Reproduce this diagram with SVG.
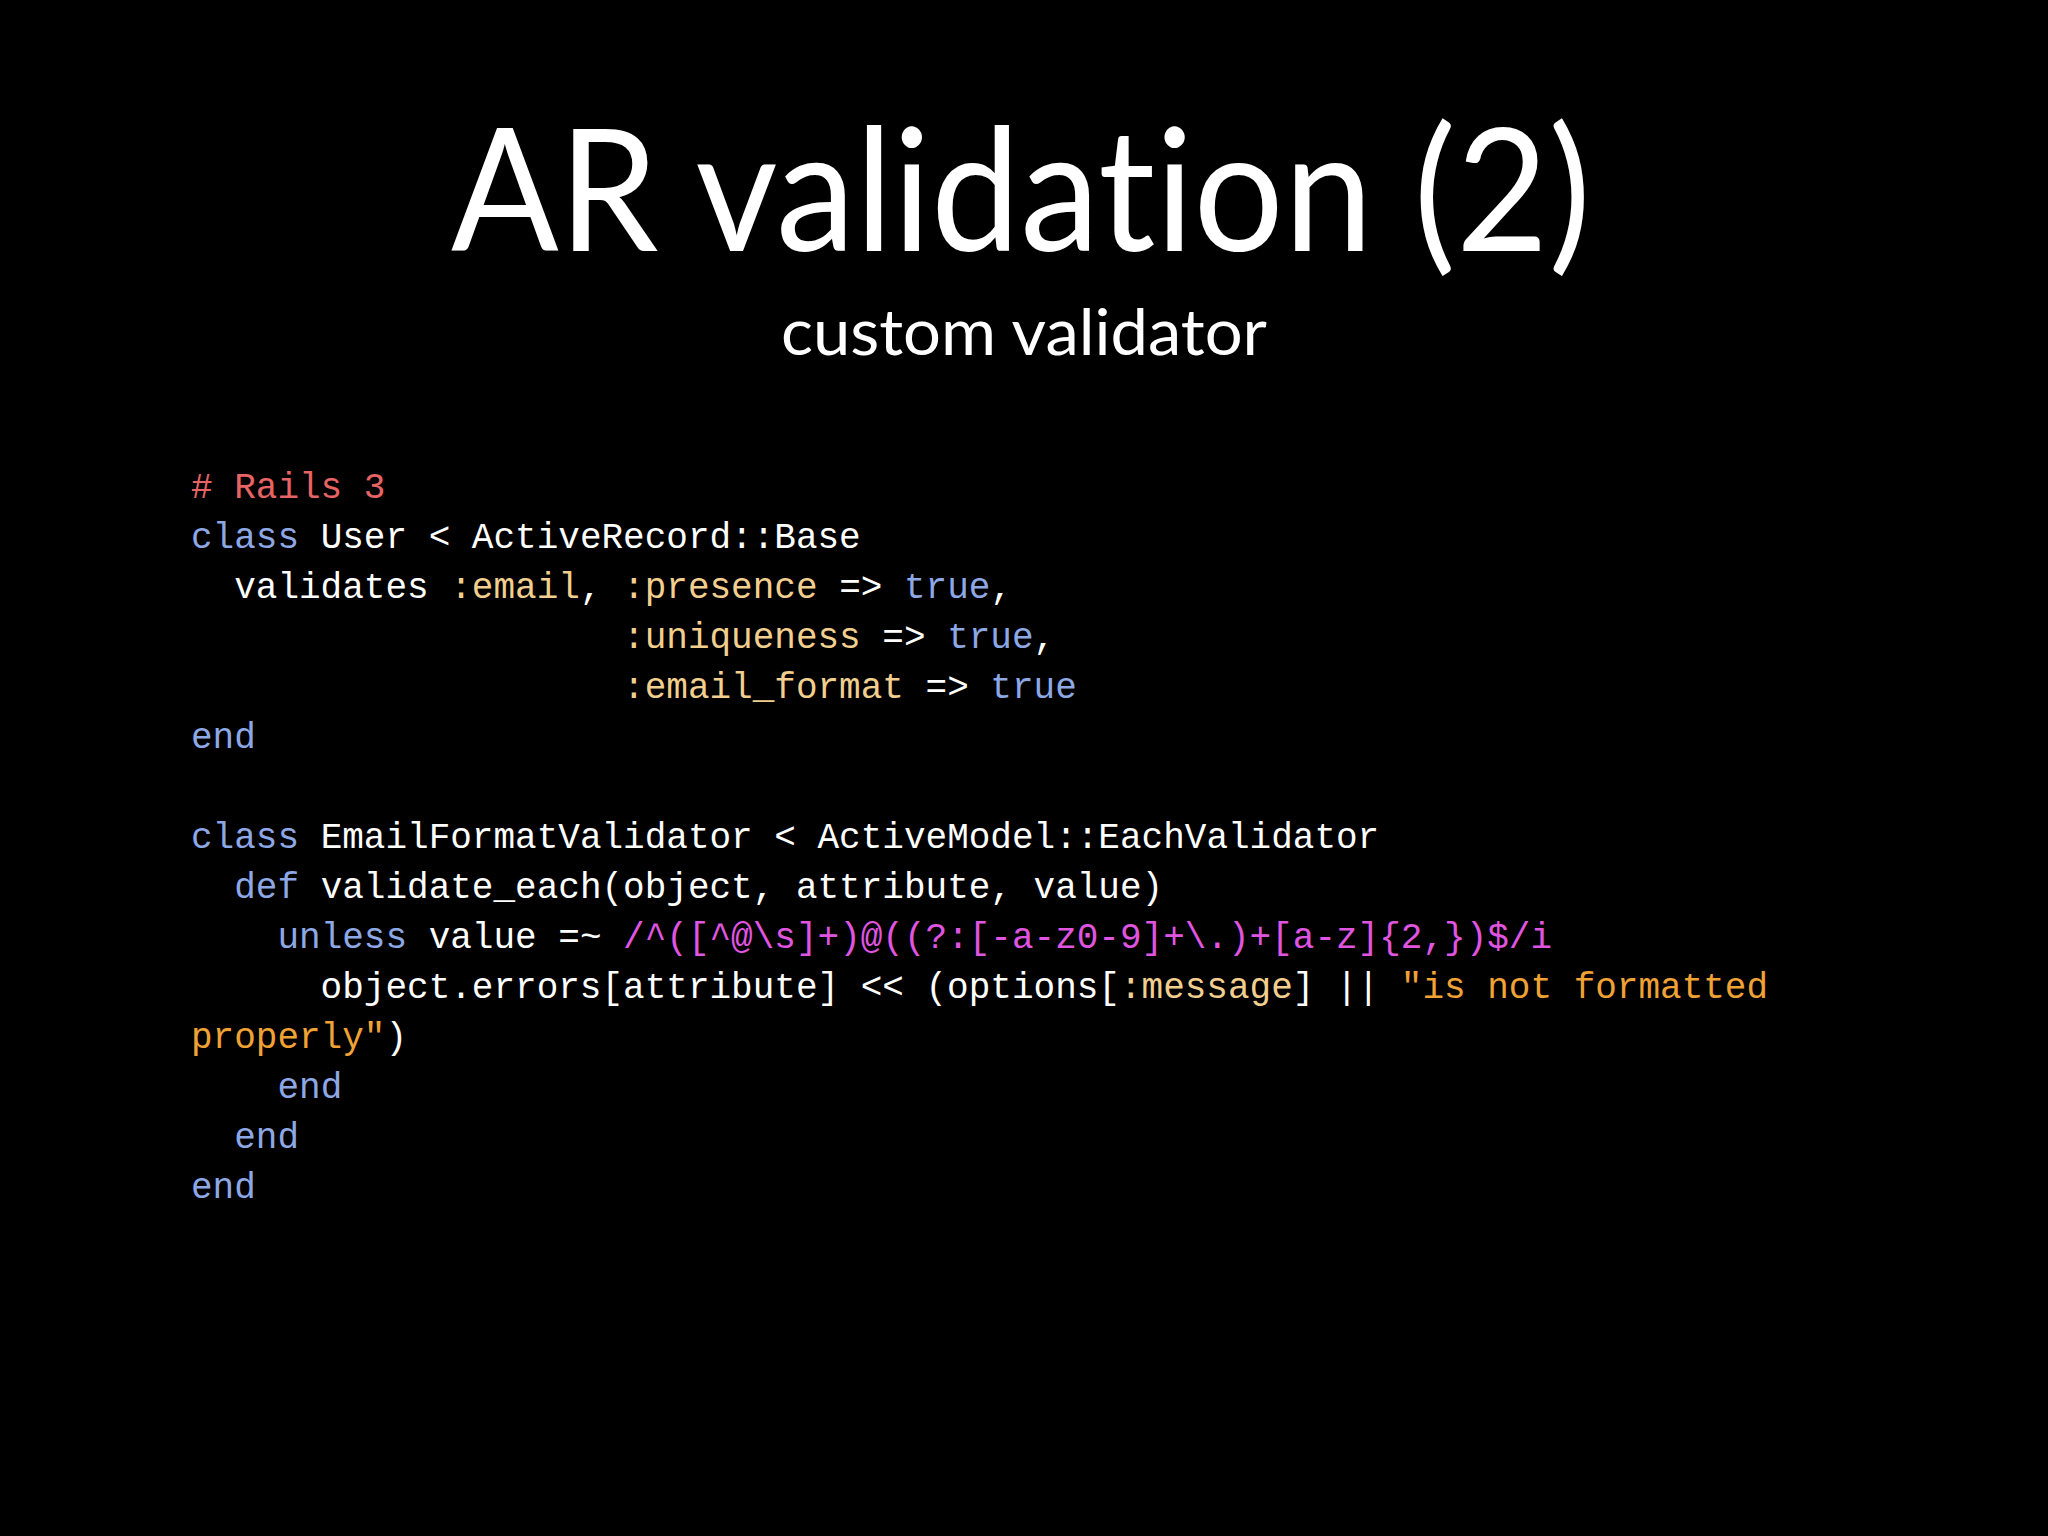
<svg xmlns="http://www.w3.org/2000/svg" width="2048" height="1536" viewBox="0 0 2048 1536">
<style>
.c{font-family:"Liberation Mono","DejaVu Sans Mono",monospace;font-size:36px;fill:#fff;white-space:pre}
.k{fill:#8ea8e6}.s{fill:#f2cf8e}.m{fill:#e86464}.t{fill:#f0a235}.r{fill:#e055e0}
.h{font-family:Lato,"Open Sans",sans-serif;fill:#fff;text-anchor:middle;font-variant-ligatures:none}
</style>
<rect width="2048" height="1536" fill="#000"/>
<g id="title"><text class="h" x="1021" y="251" font-size="170" textLength="1140" lengthAdjust="spacingAndGlyphs">AR validation (2)</text></g>
<g id="subtitle"><text class="h" x="1024" y="355" font-size="64" textLength="486" lengthAdjust="spacingAndGlyphs">custom validator</text></g>
<g id="code" xml:space="preserve">
<text class="c" x="191" y="498"><tspan class="m"># Rails 3</tspan></text>
<text class="c" x="191" y="548"><tspan class="k">class</tspan> User &lt; ActiveRecord::Base</text>
<text class="c" x="191" y="598">  validates <tspan class="s">:email</tspan>, <tspan class="s">:presence</tspan> =&gt; <tspan class="k">true</tspan>,</text>
<text class="c" x="191" y="648">                    <tspan class="s">:uniqueness</tspan> =&gt; <tspan class="k">true</tspan>,</text>
<text class="c" x="191" y="698">                    <tspan class="s">:email_format</tspan> =&gt; <tspan class="k">true</tspan></text>
<text class="c" x="191" y="748"><tspan class="k">end</tspan></text>
<text class="c" x="191" y="848"><tspan class="k">class</tspan> EmailFormatValidator &lt; ActiveModel::EachValidator</text>
<text class="c" x="191" y="898">  <tspan class="k">def</tspan> validate_each(object, attribute, value)</text>
<text class="c" x="191" y="948">    <tspan class="k">unless</tspan> value =~ <tspan class="r">/^([^@\s]+)@((?:[-a-z0-9]+\.)+[a-z]{2,})$/i</tspan></text>
<text class="c" x="191" y="998">      object.errors[attribute] &lt;&lt; (options[<tspan class="s">:message</tspan>] || <tspan class="t">"is not formatted</tspan></text>
<text class="c" x="191" y="1048"><tspan class="t">properly"</tspan>)</text>
<text class="c" x="191" y="1098">    <tspan class="k">end</tspan></text>
<text class="c" x="191" y="1148">  <tspan class="k">end</tspan></text>
<text class="c" x="191" y="1198"><tspan class="k">end</tspan></text>
</g>
</svg>
